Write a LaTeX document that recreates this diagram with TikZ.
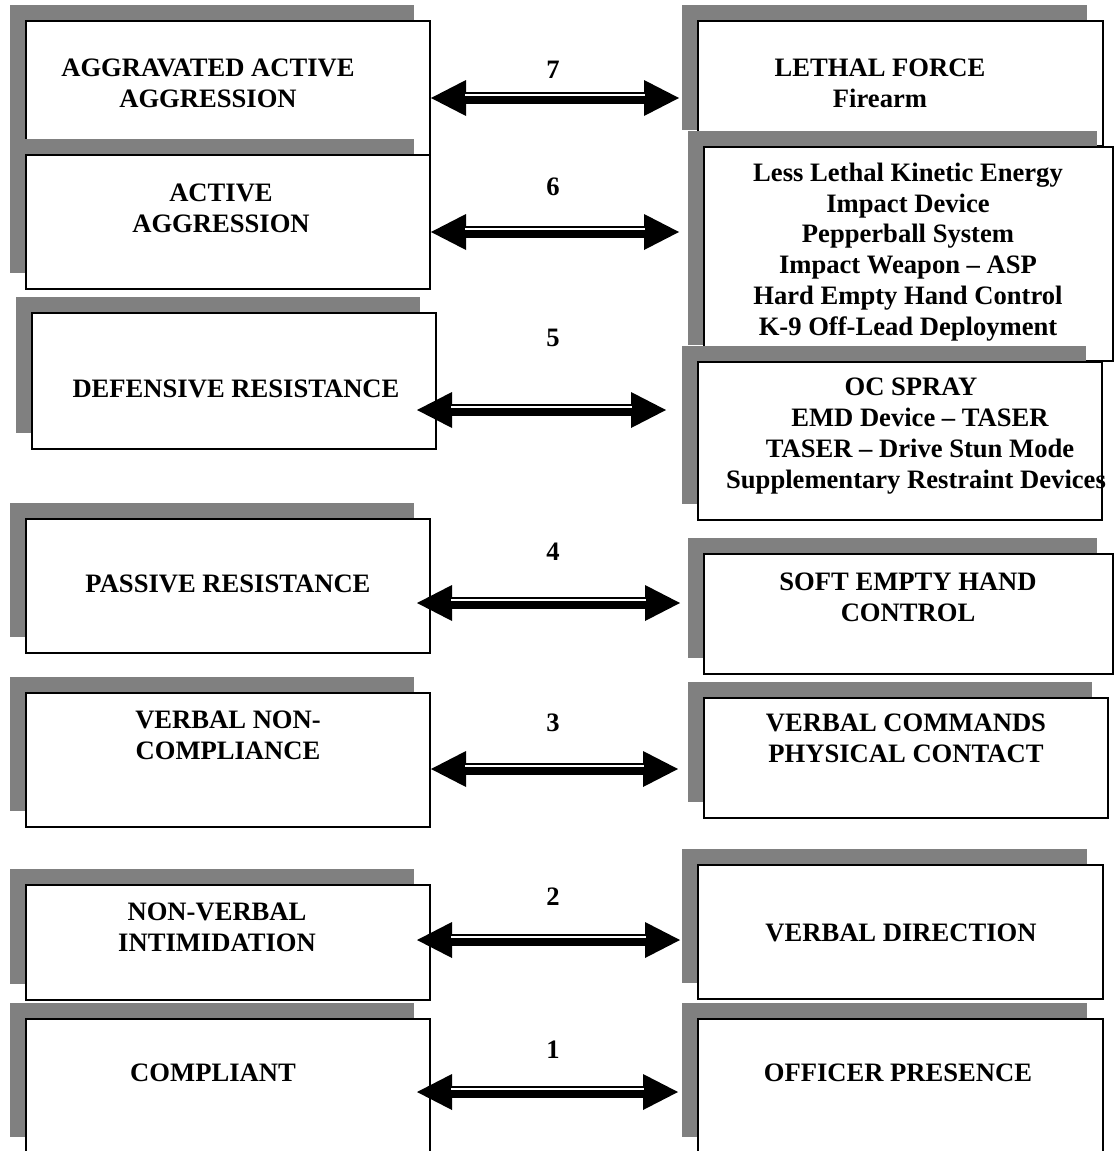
\documentclass[tikz,border=0pt]{standalone}
\usepackage{fontspec}
\setmainfont{Liberation Serif}
\usetikzlibrary{arrows.meta,shadows}

\begin{document}
\begin{tikzpicture}[x=0.5pt,y=-0.5pt,
			levelbox/.style={draw, fill=white, line width=1pt, inner sep=0pt,
				drop shadow={shadow xshift=-8pt, shadow yshift=8pt, fill=black!50, opacity=1}},
			boxtext/.style={font=\bfseries\fontsize{13.3}{15.4}\selectfont, align=center, inner sep=0pt},
			levelnum/.style={font=\bfseries\fontsize{13.3}{15.4}\selectfont, inner sep=0pt},
			bigarrow/.style={{Triangle[length=17.5pt,width=18pt,line width=0pt]}-{Triangle[length=17.5pt,width=18pt,line width=0pt]}, line width=6pt},
			stripe/.style={white, line width=1pt, shorten <=17pt, shorten >=17pt}
		]
		\useasboundingbox (0,0) rectangle (1116,1151);
		\clip (0,0) rectangle (1116,1151);

		\node[levelbox, minimum width=202pt, minimum height=67pt] (l7) at (228,88) {};
		\node[boxtext] (l7t) at (208,83) {AGGRAVATED ACTIVE\\AGGRESSION};
		\node[levelbox, minimum width=202pt, minimum height=67pt] (l6) at (228,222) {};
		\node[boxtext] (l6t) at (221,208) {ACTIVE\\AGGRESSION};
		\node[levelbox, minimum width=202pt, minimum height=68pt] (l5) at (234,381) {};
		\node[boxtext] (l5t) at (236,389) {DEFENSIVE RESISTANCE};
		\node[levelbox, minimum width=202pt, minimum height=67pt] (l4) at (228,586) {};
		\node[boxtext] (l4t) at (228,584) {PASSIVE RESISTANCE};
		\node[levelbox, minimum width=202pt, minimum height=67pt] (l3) at (228,760) {};
		\node[boxtext] (l3t) at (228,735) {VERBAL NON-\\COMPLIANCE};
		\node[levelbox, minimum width=202pt, minimum height=57.5pt] (l2) at (228,942.5) {};
		\node[boxtext] (l2t) at (217,927) {NON-VERBAL\\INTIMIDATION};
		\node[levelbox, minimum width=202pt, minimum height=67pt] (l1) at (228,1086) {};
		\node[boxtext] (l1t) at (213,1073) {COMPLIANT};

		\node[levelbox, minimum width=202.5pt, minimum height=62.5pt] (r7) at (900.5,83.5) {};
		\node[boxtext] (r7t) at (880,83) {LETHAL FORCE\\Firearm};
		\node[levelbox, minimum width=204.5pt, minimum height=107pt] (r6) at (908.5,254) {};
		\node[boxtext] (r6t) at (908,252) {Less Lethal Kinetic Energy\\Impact Device\\Pepperball System\\Impact Weapon – ASP\\Hard Empty Hand Control\\K-9 Off-Lead Deployment};
		\node[levelbox, minimum width=202pt, minimum height=79pt] (r5) at (900,441) {};
		\node[boxtext] (r5t) at (911,436) {OC SPRAY\\\hspace*{9pt}EMD Device – TASER\\\hspace*{9pt}TASER – Drive Stun Mode\\\hspace*{5pt}Supplementary Restraint Devices};
		\node[levelbox, minimum width=204.5pt, minimum height=60pt] (r4) at (908.5,614) {};
		\node[boxtext] (r4t) at (908,597) {SOFT EMPTY HAND\\CONTROL};
		\node[levelbox, minimum width=202pt, minimum height=60pt] (r3) at (906,758) {};
		\node[boxtext] (r3t) at (906,738.5) {VERBAL COMMANDS\\PHYSICAL CONTACT};
		\node[levelbox, minimum width=202.5pt, minimum height=67pt] (r2) at (900.5,932) {};
		\node[boxtext] (r2t) at (901,933) {VERBAL DIRECTION};
		\node[levelbox, minimum width=202.5pt, minimum height=67pt] (r1) at (900.5,1086) {};
		\node[boxtext] (r1t) at (898,1073) {OFFICER PRESENCE};

		\node[levelnum] (n7) at (553,70) {7};
		\node[levelnum] (n6) at (553,187) {6};
		\node[levelnum] (n5) at (553,338) {5};
		\node[levelnum] (n4) at (553,552) {4};
		\node[levelnum] (n3) at (553,723) {3};
		\node[levelnum] (n2) at (553,897) {2};
		\node[levelnum] (n1) at (553,1050) {1};

		\coordinate (a7l) at (431,98);
		\coordinate (a7r) at (679,98);
		\coordinate (a6l) at (431,232);
		\coordinate (a6r) at (679,232);
		\coordinate (a5l) at (417,410);
		\coordinate (a5r) at (666,410);
		\coordinate (a4l) at (417,603);
		\coordinate (a4r) at (680,603);
		\coordinate (a3l) at (431,769);
		\coordinate (a3r) at (678,769);
		\coordinate (a2l) at (417,940);
		\coordinate (a2r) at (680,940);
		\coordinate (a1l) at (417,1092);
		\coordinate (a1r) at (678,1092);

		\draw[bigarrow] (a7l) -- (a7r);
		\draw[stripe] ([yshift=1.5pt]a7l) -- ([yshift=1.5pt]a7r);
		\draw[bigarrow] (a6l) -- (a6r);
		\draw[stripe] ([yshift=1.5pt]a6l) -- ([yshift=1.5pt]a6r);
		\draw[bigarrow] (a5l) -- (a5r);
		\draw[stripe] ([yshift=1.5pt]a5l) -- ([yshift=1.5pt]a5r);
		\draw[bigarrow] (a4l) -- (a4r);
		\draw[stripe] ([yshift=1.5pt]a4l) -- ([yshift=1.5pt]a4r);
		\draw[bigarrow] (a3l) -- (a3r);
		\draw[stripe] ([yshift=1.5pt]a3l) -- ([yshift=1.5pt]a3r);
		\draw[bigarrow] (a2l) -- (a2r);
		\draw[stripe] ([yshift=1.5pt]a2l) -- ([yshift=1.5pt]a2r);
		\draw[bigarrow] (a1l) -- (a1r);
		\draw[stripe] ([yshift=1.5pt]a1l) -- ([yshift=1.5pt]a1r);
	\end{tikzpicture}
\end{document}
